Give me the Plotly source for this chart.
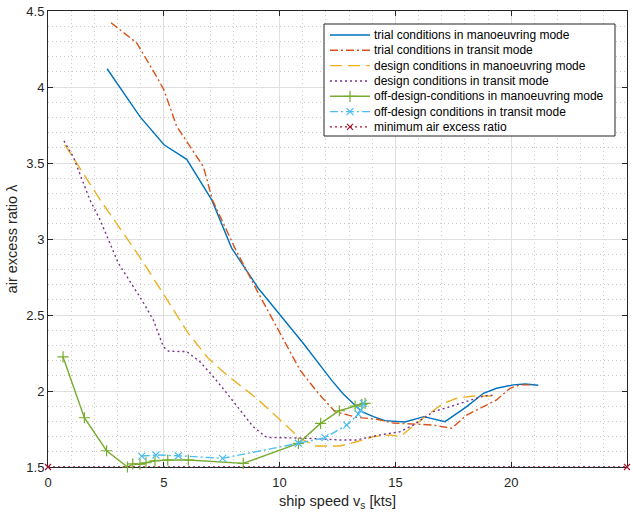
import plotly.graph_objects as go

# ---- data: air excess ratio vs. ship speed ----
trial_man_v = [2.55, 3.97, 5.01, 5.99, 7.07, 7.93, 9.08, 10.02, 11.02, 12.25, 12.75, 13.55,
               14.05, 14.55, 15.41, 16.23, 17.14, 18.08, 18.8, 19.37, 20.09, 20.6, 21.17]
trial_man_l = [4.12, 3.805, 3.62, 3.524, 3.257, 2.94, 2.676, 2.5, 2.314, 2.07, 1.98, 1.864,
               1.831, 1.805, 1.796, 1.831, 1.798, 1.897, 1.985, 2.018, 2.04, 2.046, 2.038]

trial_tra_v = [2.72, 3.83, 4.69, 5.01, 5.56, 6.35, 6.71, 7.1, 8.07, 9.01, 10.02, 10.88, 11.67,
               12.39, 13.33, 14.19, 14.91, 15.92, 16.64, 17.43, 18.08, 18.8, 19.37, 19.95, 20.38, 20.95]
trial_tra_l = [4.423, 4.29, 4.068, 3.98, 3.74, 3.564, 3.476, 3.257, 2.94, 2.665, 2.38, 2.138, 1.985,
               1.864, 1.827, 1.814, 1.789, 1.78, 1.776, 1.755, 1.842, 1.897, 1.941, 2.018, 2.04, 2.04]

design_man_v = [0.73, 2.2, 4.05, 6.06, 6.92, 7.72, 9.01, 10.88, 11.55, 12.61, 13.33, 14.05,
                14.77, 15.2, 16.28, 17.07, 17.65, 18.36, 19.16]
design_man_l = [3.62, 3.27, 2.862, 2.379, 2.215, 2.105, 1.952, 1.689, 1.638, 1.638, 1.666, 1.70,
                1.711, 1.70, 1.831, 1.919, 1.952, 1.967, 1.967]

design_tra_v = [0.69, 1.09, 1.81, 2.25, 3.04, 4.05, 4.55, 4.98, 5.2, 5.99, 6.56, 7.14, 7.72,
                8.86, 9.44, 11.17, 12.61, 13.33, 14.33, 15.2, 15.77, 16.64, 17.36, 18.08, 18.8, 19.3]
design_tra_l = [3.645, 3.541, 3.257, 3.125, 2.84, 2.599, 2.467, 2.292, 2.262, 2.259, 2.193, 2.094,
                1.985, 1.765, 1.695, 1.689, 1.678, 1.678, 1.711, 1.732, 1.776, 1.864, 1.897, 1.93,
                1.967, 1.974]

offd_man_v = [0.65, 1.57, 2.53, 3.43, 3.66, 3.97, 4.23, 4.62, 5.17, 6.06, 8.43, 10.81, 11.77,
              12.58, 13.26, 13.55, 13.69]
offd_man_l = [2.224, 1.824, 1.607, 1.5, 1.52, 1.518, 1.528, 1.541, 1.546, 1.546, 1.524, 1.656,
              1.787, 1.87, 1.9, 1.911, 1.919]

offd_tra_v = [4.05, 4.66, 5.63, 7.54, 10.81, 11.96, 12.9, 13.4, 13.5, 13.62]
offd_tra_l = [1.572, 1.579, 1.574, 1.557, 1.656, 1.693, 1.776, 1.848, 1.875, 1.919]

min_v = [0, 25]
min_l = [1.5, 1.5]

x_ticks = [0, 5, 10, 15, 20, 25]
y_ticks = [1.5, 2, 2.5, 3, 3.5, 4, 4.5]

legend_labels = [
    "trial conditions in manoeuvring mode",
    "trial conditions in transit mode",
    "design conditions in manoeuvring mode",
    "design conditions in transit mode",
    "off-design-conditions in manoeuvring mode",
    "off-design conditions in transit mode",
    "minimum air excess ratio",
]

# ---- styles ----
FONT = "Liberation Sans, Arial, Helvetica, sans-serif"
AX = "#262626"
LW = 1.4
DASHDOT = "8px,3px,2px,3px"
styles = [
    dict(color="#0072BD", dash="solid", symbol=None),
    dict(color="#D95319", dash=DASHDOT, symbol=None),
    dict(color="#EDB120", dash="12px,6px", symbol=None),
    dict(color="#7E2F8E", dash="2px,3px", symbol=None),
    dict(color="#77AC30", dash="solid", symbol="cross-thin"),
    dict(color="#4DBEEE", dash=DASHDOT, symbol="x-thin"),
    dict(color="#A2142F", dash="2px,3px", symbol="x-thin"),
]
marker_sizes = [0, 0, 0, 0, 8, 7, 6]

series = [
    (trial_man_v, trial_man_l),
    (trial_tra_v, trial_tra_l),
    (design_man_v, design_man_l),
    (design_tra_v, design_tra_l),
    (offd_man_v, offd_man_l),
    (offd_tra_v, offd_tra_l),
    (min_v, min_l),
]

W, H = 633, 516
ML, MR, MT, MB = 48, 6, 11, 49
PW, PH = W - ML - MR, H - MT - MB


def px_x(p):
    return (p - ML) / PW


def px_y(p):
    return (H - MB - p) / PH


fig = go.Figure()

for (xs, ys), st, ms in zip(series, styles, marker_sizes):
    mode = "lines+markers" if st["symbol"] else "lines"
    marker = dict(symbol=st["symbol"], size=ms, color=st["color"],
                  line=dict(color=st["color"], width=1.2)) if st["symbol"] else None
    fig.add_trace(go.Scatter(
        x=xs, y=ys, mode=mode,
        line=dict(color=st["color"], width=LW, dash=st["dash"]),
        marker=marker, cliponaxis=False, showlegend=False, hoverinfo="skip",
    ))

# ---- legend box drawn on an overlay axis in plot-fraction units ----
bx0, bx1 = px_x(324), px_x(615)
by0, by1 = px_y(136), px_y(24)
fig.add_trace(go.Scatter(
    x=[bx0, bx1, bx1, bx0, bx0], y=[by0, by0, by1, by1, by0],
    mode="lines", fill="toself", fillcolor="white",
    line=dict(color=AX, width=1), xaxis="x2", yaxis="y2",
    showlegend=False, hoverinfo="skip",
))

row_px = [35, 50.3, 65.6, 81, 96.3, 111.6, 126.9]
sx0, sx1, tx = px_x(330), px_x(370), px_x(372)
for label, st, ms, ry in zip(legend_labels, styles, marker_sizes, row_px):
    yy = px_y(ry)
    fig.add_trace(go.Scatter(
        x=[sx0, sx1], y=[yy, yy], mode="lines",
        line=dict(color=st["color"], width=LW, dash=st["dash"]),
        xaxis="x2", yaxis="y2", showlegend=False, hoverinfo="skip",
    ))
    if st["symbol"]:
        fig.add_trace(go.Scatter(
            x=[(sx0 + sx1) / 2], y=[yy], mode="markers",
            marker=dict(symbol=st["symbol"], size=ms, color=st["color"],
                        line=dict(color=st["color"], width=1.2)),
            xaxis="x2", yaxis="y2", showlegend=False, hoverinfo="skip",
        ))
    fig.add_annotation(x=tx, y=yy, xref="x2", yref="y2", text=label,
                       showarrow=False, xanchor="left", yanchor="middle",
                       font=dict(family=FONT, size=12, color="black"))

axis_common = dict(
    showline=True, linecolor=AX, linewidth=1, mirror="ticks",
    ticks="inside", ticklen=5, tickcolor=AX, tickwidth=1,
    showgrid=True, gridcolor="#dfdfdf", gridwidth=1,
    zeroline=False, tickfont=dict(family=FONT, size=13, color=AX),
    layer="below traces",
)
minor_grid = dict(showgrid=True, gridcolor="#c9c9c9", griddash="1px,3px", gridwidth=1)

fig.update_layout(
    width=W, height=H,
    margin=dict(l=ML, r=MR, t=MT, b=MB),
    paper_bgcolor="white", plot_bgcolor="white",
    font=dict(family=FONT, color=AX),
    xaxis=dict(
        range=[0, 25], tickvals=x_ticks, ticktext=[str(v) for v in x_ticks],
        minor=dict(dtick=1, **minor_grid), ticklabelstandoff=3,
        title=dict(text="ship speed v<sub>s</sub> [kts]", font=dict(family=FONT, size=14.5, color=AX),
                   standoff=7),
        automargin=False, **axis_common,
    ),
    yaxis=dict(
        range=[1.5, 4.5], tickvals=y_ticks, ticktext=[f"{v:g}" for v in y_ticks],
        minor=dict(dtick=0.1, **minor_grid),
        title=dict(text="air excess ratio λ", font=dict(family=FONT, size=14.5, color=AX),
                   standoff=5),
        automargin=False, **axis_common,
    ),
    xaxis2=dict(overlaying="x", anchor="y2", range=[0, 1], visible=False, fixedrange=True),
    yaxis2=dict(overlaying="y", anchor="x2", range=[0, 1], visible=False, fixedrange=True),
)

fig.write_html("out.html")
